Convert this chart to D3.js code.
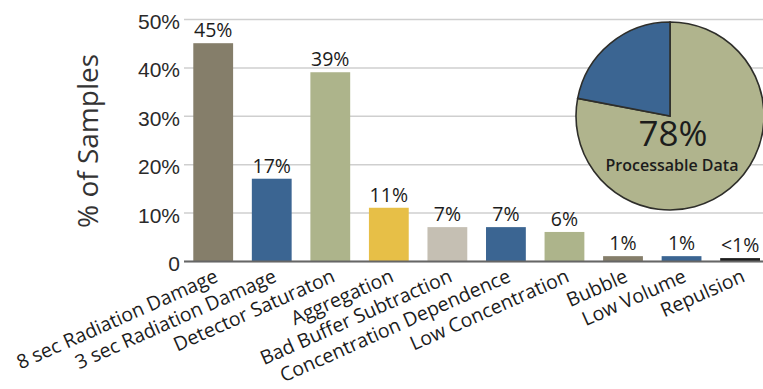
<!DOCTYPE html>
<html>
<head>
<meta charset="utf-8">
<script src="https://cdn.jsdelivr.net/npm/d3@7"></script>
<style>
  html, body { margin: 0; padding: 0; background: #fff; }
  svg { display: block; font-family: "Open Sans", "Noto Sans", sans-serif; }
</style>
</head>
<body>
<svg id="chart" width="763" height="389"></svg>
<script>
// Failure categories for the screened samples
const categories = [
  "8 sec Radiation Damage", "3 sec Radiation Damage", "Detector Saturaton",
  "Aggregation", "Bad Buffer Subtraction", "Concentration Dependence",
  "Low Concentration", "Bubble", "Low Volume", "Repulsion"
];
// Share of samples affected, in percent
const values = [45, 17, 39, 11, 7, 7, 6, 1, 1, 0.6];
const valueLabels = ["45%", "17%", "39%", "11%", "7%", "7%", "6%", "1%", "1%", "<1%"];
const barColors = ["#857e6a", "#3b6592", "#adb48b", "#e7bf47", "#c5bfb3",
                   "#3b6592", "#adb48b", "#857e6a", "#3b6592", "#1e1e1e"];
const yTicks = [0, 10, 20, 30, 40, 50];

// Overall outcome shown in the inset pie
const pieParts = ["Processable", "Not processable"];
const pieValues = [78, 22];
const pieColors = ["#b0b48d", "#3b6592"];

const svg = d3.select("#chart");
const plot = { left: 184, right: 763, top: 19, bottom: 261 };

const x = d3.scaleBand()
  .domain(categories)
  .range([plot.left, plot.right])
  .paddingInner(0.32)
  .paddingOuter(0.105)
  .align(0.756);

const y = d3.scaleLinear().domain([0, 50]).range([plot.bottom, plot.top]);

// Gridlines and tick labels
const yAxis = svg.append("g")
  .attr("transform", `translate(${plot.left},0)`)
  .call(d3.axisLeft(y)
    .tickValues(yTicks)
    .tickSize(-(plot.right - plot.left))
    .tickPadding(4)
    .tickFormat(d => d === 0 ? "0" : d + "%"));
yAxis.select(".domain").remove();
yAxis.selectAll(".tick line").attr("stroke", "#cfcfcf").attr("stroke-width", 1.5);
yAxis.selectAll(".tick text")
  .attr("fill", "#2a2a2a")
  .style("font-size", "21px")
  .attr("dy", "0.45em");

// Axis title
svg.append("text")
  .attr("transform", `translate(98,${(plot.top + plot.bottom) / 2 + 1}) rotate(-90)`)
  .attr("text-anchor", "middle")
  .attr("fill", "#333")
  .style("font-size", "28px")
  .text("% of Samples");

// Inset pie
const pieCenter = { x: 670, y: 116 }, pieR = 94;
const pie = d3.pie().sort(null).startAngle(0).endAngle(2 * Math.PI);
const arc = d3.arc().innerRadius(0).outerRadius(pieR);
const pg = svg.append("g").attr("transform", `translate(${pieCenter.x},${pieCenter.y})`);
pg.selectAll("path")
  .data(pie(pieValues))
  .join("path")
  .attr("d", arc)
  .attr("fill", (d, i) => pieColors[i])
  .attr("stroke", "#2e2e2a")
  .attr("stroke-width", 1.6);
pg.append("text")
  .attr("x", 3).attr("y", 30)
  .attr("text-anchor", "middle")
  .attr("fill", "#1c1c1c")
  .style("font-size", "35px")
  .text(pieValues[0] + "%");
pg.append("text")
  .attr("x", 2).attr("y", 55)
  .attr("text-anchor", "middle")
  .attr("fill", "#1c1c1c")
  .style("font-size", "16px")
  .style("font-weight", 600)
  .text("Processable Data");

// Bars
svg.append("g").selectAll("rect")
  .data(values)
  .join("rect")
  .attr("x", (d, i) => x(categories[i]))
  .attr("width", x.bandwidth())
  .attr("y", d => y(d))
  .attr("height", d => y(0) - y(d))
  .attr("fill", (d, i) => barColors[i]);

// Value labels
svg.append("g").selectAll("text")
  .data(values)
  .join("text")
  .attr("x", (d, i) => x(categories[i]) + x.bandwidth() / 2)
  .attr("y", d => y(d) - 6)
  .attr("text-anchor", "middle")
  .attr("fill", "#1c1c1c")
  .style("font-size", "19.5px")
  .style("font-weight", 500)
  .text((d, i) => valueLabels[i]);

// Baseline
svg.append("line")
  .attr("x1", plot.left).attr("x2", plot.right)
  .attr("y1", y(0) + 0.5).attr("y2", y(0) + 0.5)
  .attr("stroke", "#666").attr("stroke-width", 2);

// Slanted category labels
svg.append("g").selectAll("text")
  .data(categories)
  .join("text")
  .attr("transform", c => `translate(${x(c) + x.bandwidth() / 2 + 6},281) rotate(-24)`)
  .attr("text-anchor", "end")
  .attr("fill", "#1c1c1c")
  .style("font-size", "19.5px")
  .text(c => c);
</script>
</body>
</html>
